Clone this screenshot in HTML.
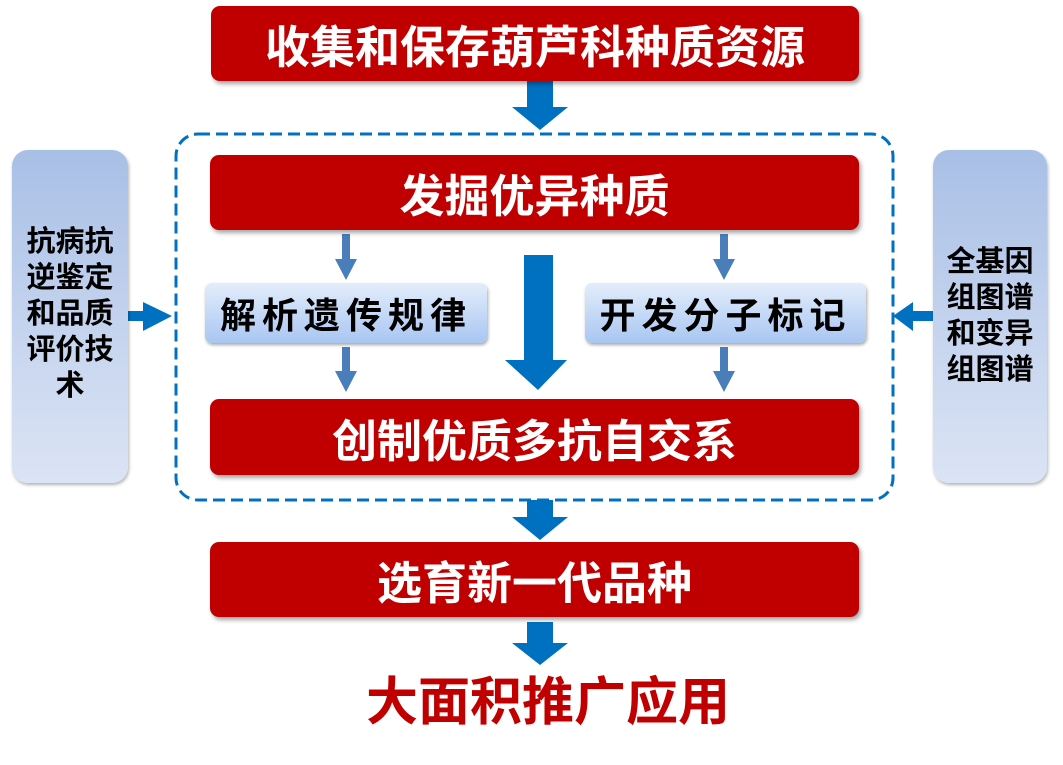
<!DOCTYPE html>
<html><head><meta charset="utf-8"><style>
body{margin:0;width:1063px;height:765px;background:#fff;position:relative;overflow:hidden;font-family:"Liberation Sans","Noto Sans CJK SC",sans-serif;font-weight:bold}
.r{position:absolute;background:#C00000;border-radius:9px;color:#fff;display:flex;align-items:center;justify-content:center;font-size:45px;box-shadow:2px 3px 4px rgba(0,0,0,.35)}
.b{position:absolute;background:linear-gradient(#e3edfb,#a9c6f2);border-radius:7px;color:#000;display:flex;align-items:center;justify-content:center;font-size:36px;letter-spacing:6px;box-shadow:1px 2px 3px rgba(0,0,0,.35)}
.p{position:absolute;background:linear-gradient(#a8bfe6,#c8d6ef 60%,#dbe4f4);border-radius:16px;color:#000;font-size:29px;line-height:36px;text-align:center;box-shadow:1px 2px 3px rgba(0,0,0,.3)}
svg{position:absolute;left:0;top:0}
</style></head><body>
<svg width="1063" height="765">
<rect x="176" y="134" width="717" height="366" rx="22" fill="none" stroke="#0070C0" stroke-width="3" stroke-dasharray="12,6"/>
<g fill="#0070C0">
<polygon points="527,81 553,81 553,107 568,107 540,130 512,107 527,107"/>
<polygon points="524,255 553,255 553,360 567,360 538,390 505,360 524,360"/>
<polygon points="527,500 553,500 553,517 568,517 540,540 512,517 527,517"/>
<polygon points="527,622 553,622 553,643 568,643 540,665 512,643 527,643"/>
<polygon points="128,311 143,311 143,302 172,316 143,331 143,321 128,321"/>
<polygon points="933,311 913,311 913,302 893,316 913,331 913,321 933,321"/>
</g>
<g fill="#4A7EBB">
<polygon points="342,234 350,234 350,259 357,259 346,280 335,259 342,259"/>
<polygon points="342,347 350,347 350,371 357,371 346,392 335,371 342,371"/>
<polygon points="720,234 728,234 728,259 735,259 724,280 713,259 720,259"/>
<polygon points="720,347 728,347 728,371 735,371 724,392 713,371 720,371"/>
</g>
</svg>
<div class="r" style="left:211px;top:6px;width:648px;height:75px">收集和保存葫芦科种质资源</div>
<div class="r" style="left:210px;top:155px;width:649px;height:75px">发掘优异种质</div>
<div class="b" style="left:205px;top:283px;width:282px;height:60px">解析遗传规律</div>
<div class="b" style="left:585px;top:283px;width:281px;height:60px">开发分子标记</div>
<div class="r" style="left:210px;top:399px;width:649px;height:76px">创制优质多抗自交系</div>
<div class="r" style="left:210px;top:542px;width:649px;height:75px">选育新一代品种</div>
<div style="position:absolute;left:248px;top:672px;width:600px;text-align:center;color:#C00000;font-size:52px;line-height:62px">大面积推广应用</div>
<div class="p" style="left:12px;top:150px;width:116px;height:333px"><div style="padding-top:74px">抗病抗<br>逆鉴定<br>和品质<br>评价技<br>术</div></div>
<div class="p" style="left:933px;top:150px;width:114px;height:333px"><div style="padding-top:94px">全基因<br>组图谱<br>和变异<br>组图谱</div></div>
</body></html>
